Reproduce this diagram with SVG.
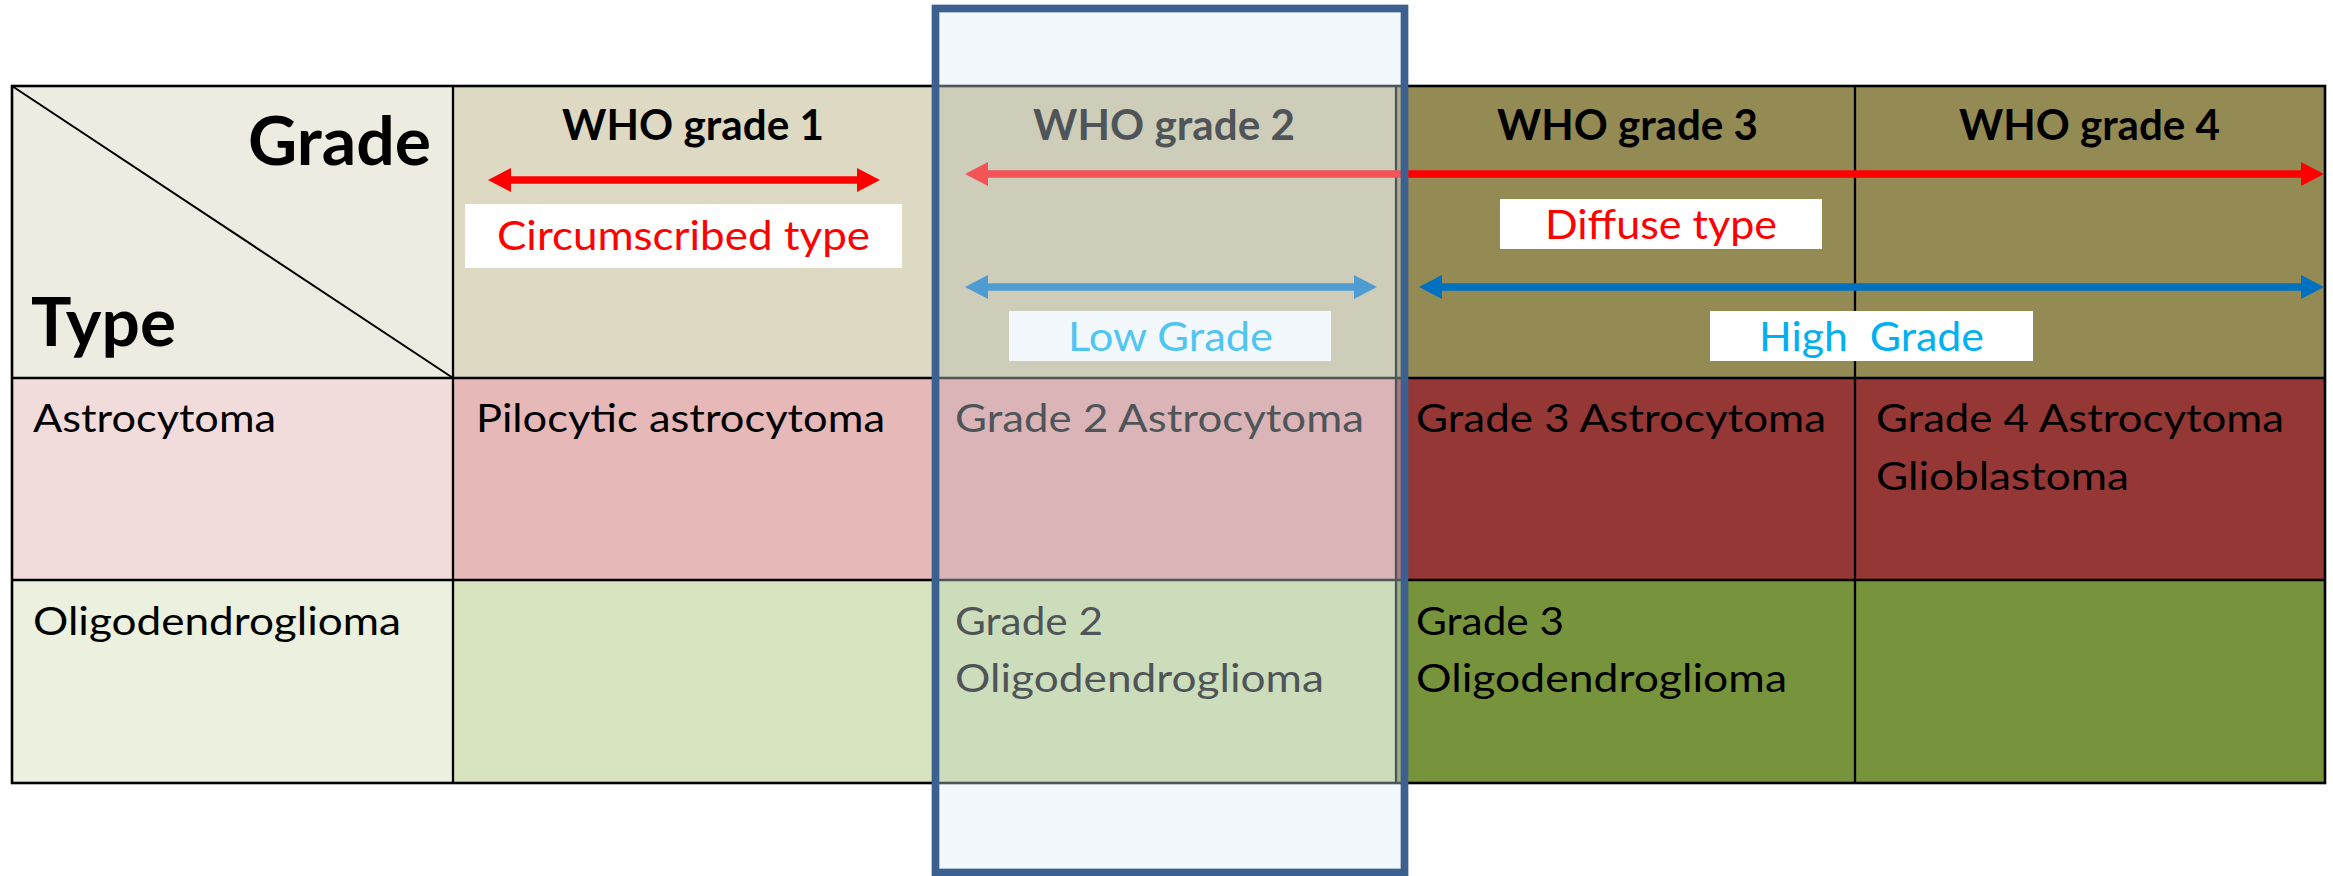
<svg xmlns="http://www.w3.org/2000/svg" width="2333" height="876" viewBox="0 0 2333 876">
<style>
.grid{stroke:#000;stroke-width:2.3;fill:none}
.t{font-family:Lato,"Liberation Sans",sans-serif;font-size:38px;fill:#000}
.h{font-family:Lato,"Liberation Sans",sans-serif;font-size:42px;font-weight:bold;fill:#000}
.big{font-family:Lato,"Liberation Sans",sans-serif;font-size:66px;font-weight:bold;fill:#000}
.lbl{font-family:Lato,"Liberation Sans",sans-serif;font-size:40px}
.red{fill:#ff0000}
.cyan{fill:#00b0f0}
.box{fill:#ffffff}
.ar{stroke:#ff0000;stroke-width:7.5;fill:none}
.ab{stroke:#0070c0;stroke-width:7.5;fill:none}
</style>
<defs>
<marker id="hr" markerUnits="userSpaceOnUse" markerWidth="24" markerHeight="24" viewBox="0 0 24 24" refX="1" refY="12" orient="auto-start-reverse"><path d="M0,0 L23,12 L0,24 Z" fill="#ff0000"/></marker>
<marker id="hb" markerUnits="userSpaceOnUse" markerWidth="24" markerHeight="24" viewBox="0 0 24 24" refX="1" refY="12" orient="auto-start-reverse"><path d="M0,0 L23,12 L0,24 Z" fill="#0070c0"/></marker>
</defs>
<rect width="2333" height="876" fill="#ffffff"/>

<g id="corner">
<rect x="12" y="86" width="441" height="292" fill="#eeece1"/>
<line x1="12" y1="86" x2="453" y2="378" stroke="#000" stroke-width="2"/>
<text class="big" x="248" y="165" textLength="183" lengthAdjust="spacingAndGlyphs">Grade</text>
<text class="big" x="31" y="346" textLength="145" lengthAdjust="spacingAndGlyphs">Type</text>
</g>
<g id="h1"><rect x="453" y="86" width="482" height="292" fill="#ddd9c3"/><text class="h" x="562" y="140" textLength="262" lengthAdjust="spacingAndGlyphs">WHO grade 1</text></g>
<g id="h2"><rect x="935" y="86" width="461" height="292" fill="#c4bd97"/><text class="h" x="1033" y="140" textLength="262" lengthAdjust="spacingAndGlyphs">WHO grade 2</text></g>
<g id="h3"><rect x="1396" y="86" width="459" height="292" fill="#948a54"/><text class="h" x="1497" y="140" textLength="261" lengthAdjust="spacingAndGlyphs">WHO grade 3</text></g>
<g id="h4"><rect x="1855" y="86" width="470" height="292" fill="#948a54"/><text class="h" x="1959" y="140" textLength="261" lengthAdjust="spacingAndGlyphs">WHO grade 4</text></g>

<g id="astro"><rect x="12" y="378" width="441" height="202" fill="#f2dcdb"/><text class="t" x="33" y="432" textLength="243" lengthAdjust="spacingAndGlyphs">Astrocytoma</text></g>
<g id="a1"><rect x="453" y="378" width="482" height="202" fill="#e6b9b8"/><text class="t" x="476" y="432" textLength="409" lengthAdjust="spacingAndGlyphs">Pilocytic astrocytoma</text></g>
<g id="a2"><rect x="935" y="378" width="461" height="202" fill="#d99694"/><text class="t" x="955" y="432" textLength="409" lengthAdjust="spacingAndGlyphs">Grade 2 Astrocytoma</text></g>
<g id="a3"><rect x="1396" y="378" width="459" height="202" fill="#953735"/><text class="t" x="1416" y="432" textLength="410" lengthAdjust="spacingAndGlyphs">Grade 3 Astrocytoma</text></g>
<g id="a4"><rect x="1855" y="378" width="470" height="202" fill="#953735"/><text class="t" x="1876" y="432" textLength="408" lengthAdjust="spacingAndGlyphs">Grade 4 Astrocytoma</text><text class="t" x="1876" y="490" textLength="253" lengthAdjust="spacingAndGlyphs">Glioblastoma</text></g>

<g id="oligo"><rect x="12" y="580" width="441" height="203" fill="#ebf1de"/><text class="t" x="33" y="635" textLength="368" lengthAdjust="spacingAndGlyphs">Oligodendroglioma</text></g>
<g id="o1"><rect x="453" y="580" width="482" height="203" fill="#d7e4bd"/></g>
<g id="o2"><rect x="935" y="580" width="461" height="203" fill="#c3d69b"/><text class="t" x="955" y="635" textLength="148" lengthAdjust="spacingAndGlyphs">Grade 2</text><text class="t" x="955" y="692" textLength="369" lengthAdjust="spacingAndGlyphs">Oligodendroglioma</text></g>
<g id="o3"><rect x="1396" y="580" width="459" height="203" fill="#77933c"/><text class="t" x="1416" y="635" textLength="148" lengthAdjust="spacingAndGlyphs">Grade 3</text><text class="t" x="1416" y="692" textLength="371" lengthAdjust="spacingAndGlyphs">Oligodendroglioma</text></g>
<g id="o4"><rect x="1855" y="580" width="470" height="203" fill="#77933c"/></g>

<g id="grid" class="grid">
<rect x="12" y="86" width="2313" height="697" stroke-width="2.6"/>
<line x1="453" y1="86" x2="453" y2="783"/>
<line x1="935" y1="86" x2="935" y2="783"/>
<line x1="1396" y1="86" x2="1396" y2="783"/>
<line x1="1855" y1="86" x2="1855" y2="783"/>
<line x1="12" y1="378" x2="2325" y2="378"/>
<line x1="12" y1="580" x2="2325" y2="580"/>
</g>

<g id="circumscribed"><rect class="box" x="465" y="204" width="437" height="64"/><text class="lbl red" x="497" y="250" textLength="373" lengthAdjust="spacingAndGlyphs">Circumscribed type</text></g>
<g id="diffuse"><rect class="box" x="1500" y="199" width="322" height="50"/><text class="lbl red" x="1545" y="239" textLength="232" lengthAdjust="spacingAndGlyphs">Diffuse type</text></g>
<g id="lowgrade"><rect class="box" x="1009" y="311" width="322" height="50"/><text class="lbl cyan" x="1068" y="351" textLength="205" lengthAdjust="spacingAndGlyphs">Low Grade</text></g>
<g id="highgrade"><rect class="box" x="1710" y="311" width="323" height="50"/><text class="lbl cyan" x="1759" y="351" textLength="225" lengthAdjust="spacingAndGlyphs" xml:space="preserve">High  Grade</text></g>

<g id="connectors">
<line class="ar" x1="510" y1="180" x2="858" y2="180" marker-start="url(#hr)" marker-end="url(#hr)"/>
<line class="ar" x1="987" y1="174" x2="2302" y2="174" marker-start="url(#hr)" marker-end="url(#hr)"/>
<line class="ab" x1="987" y1="287" x2="1355" y2="287" marker-start="url(#hb)" marker-end="url(#hb)"/>
<line class="ab" x1="1441" y1="287" x2="2302" y2="287" marker-start="url(#hb)" marker-end="url(#hb)"/>
</g>

<g id="highlight">
<rect x="935.5" y="8.5" width="469" height="864" fill="#ddebf7" fill-opacity="0.357" stroke="#3c6090" stroke-width="7.7"/>
</g>
</svg>
